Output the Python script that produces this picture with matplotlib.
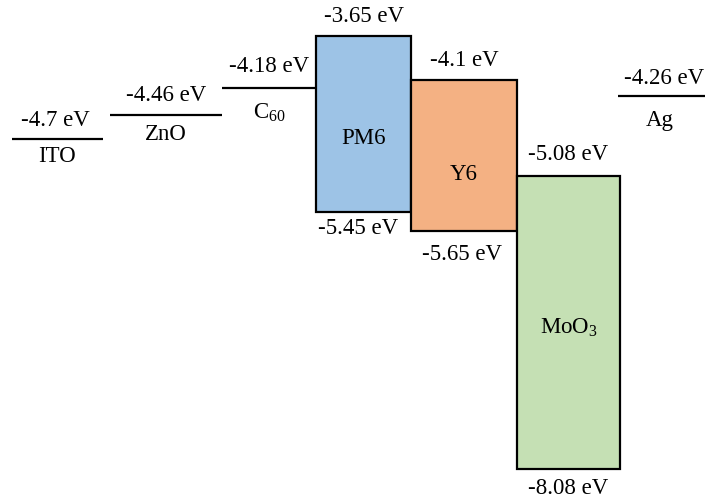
import matplotlib
matplotlib.use("Agg")
import matplotlib.pyplot as plt
from matplotlib.patches import Rectangle

plt.rcParams['font.family'] = ['Liberation Serif', 'DejaVu Serif']
plt.rcParams['mathtext.fontset'] = 'custom'
plt.rcParams['mathtext.rm'] = 'Liberation Serif'
plt.rcParams['mathtext.it'] = 'Liberation Serif:italic'

# ---- data ----
line_names = ['ITO', 'ZnO', 'C$_{60}$', 'Ag']
line_levels = [-4.7, -4.46, -4.18, -4.26]
line_labels = ['-4.7 eV', '-4.46 eV', '-4.18 eV', '-4.26 eV']

box_names = ['PM6', 'Y6', 'MoO$_3$']
box_top = [-3.65, -4.1, -5.08]
box_bottom = [-5.45, -5.65, -8.08]
box_top_labels = ['-3.65 eV', '-4.1 eV', '-5.08 eV']
box_bottom_labels = ['-5.45 eV', '-5.65 eV', '-8.08 eV']

# ---- layout (pixel x positions) ----
line_x = [(12, 103), (110, 222), (222, 316), (618, 705)]
line_label_dx = [-2, 0, 0, 0]
line_name_dx = [0, 0, 0, -4]
line_up = [18, 20, 21, 17]
line_down = [18, 19, 25, 25]
box_x = [(316, 411), (411, 517), (517, 620)]
box_colors = ['#9DC3E6', '#F4B183', '#C5E0B4']
box_name_px = [138, 175, 328]
box_top_up = [19, 19, 21]
box_bot_down = [17, 23, 20]
box_bot_dx = [-5, -2, 0]

W, H = 705, 504
fig = plt.figure(figsize=(W / 100, H / 100), dpi=100)
ax = fig.add_axes([0, 0, 1, 1])
px_per_ev = 433 / 4.43
top = -3.65 + 36 / px_per_ev
bottom = top - H / px_per_ev
ax.set_xlim(0, W)
ax.set_ylim(bottom, top)
ax.axis('off')

fs = 16.5

for (x0, x1), lvl, lab, name, dx, ndx, up, dn in zip(line_x, line_levels, line_labels,
                                                    line_names, line_label_dx, line_name_dx,
                                                    line_up, line_down):
    ax.plot([x0, x1], [lvl, lvl], color='black', lw=1.6, solid_capstyle='butt')
    xc = (x0 + x1) / 2
    if x1 >= W:
        xc = 664
    ax.annotate(lab, (xc + dx, lvl), xytext=(0, up), textcoords='offset pixels',
                ha='center', va='center', fontsize=fs)
    ax.annotate(name, (xc + ndx, lvl), xytext=(0, -dn), textcoords='offset pixels',
                ha='center', va='center', fontsize=fs)

for (x0, x1), t, b, c, name, npx, tl, bl, up, dn, bdx in zip(box_x, box_top, box_bottom, box_colors,
                                                            box_names, box_name_px, box_top_labels,
                                                            box_bottom_labels, box_top_up,
                                                            box_bot_down, box_bot_dx):
    ax.add_patch(Rectangle((x0, b), x1 - x0, t - b, facecolor=c, edgecolor='black', lw=1.6))
    xc = (x0 + x1) / 2
    ax.text(xc, 1 - npx / H, name, ha='center', va='center', fontsize=fs,
            transform=ax.get_xaxis_transform())
    ax.annotate(tl, (xc, t), xytext=(0, up), textcoords='offset pixels',
                ha='center', va='center', fontsize=fs)
    ax.annotate(bl, (xc + bdx, b), xytext=(0, -dn), textcoords='offset pixels',
                ha='center', va='center', fontsize=fs)

fig.savefig('out.png', dpi=100)
